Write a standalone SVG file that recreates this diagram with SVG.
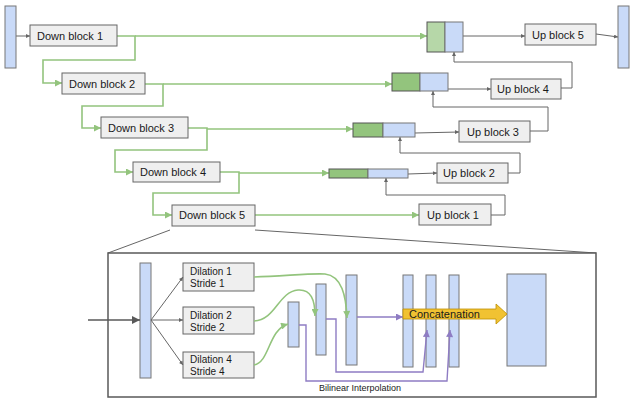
<svg xmlns="http://www.w3.org/2000/svg" width="640" height="400" viewBox="0 0 640 400">
<style>
text{font-family:"Liberation Sans",Arial,sans-serif;fill:#1a1a1a}
.box{fill:#efefef;stroke:#666;stroke-width:1}
.bar{fill:#c9daf8;stroke:#777;stroke-width:1}
.gd{fill:#93c47d;stroke:#555;stroke-width:1}
.gl{fill:#b6d7a8;stroke:#555;stroke-width:1}
.t{font-size:11px}
.s{font-size:10px}
.g{fill:none;stroke:#93c47d;stroke-width:1.6}
.k{fill:none;stroke:#666;stroke-width:1}
.p{fill:none;stroke:#8e7cc3;stroke-width:1.4}
</style>
<defs>
<marker id="ag" viewBox="0 0 10 10" refX="10" refY="5" markerWidth="8" markerHeight="7" markerUnits="userSpaceOnUse" orient="auto"><path d="M0,0 L10,5 L0,10 z" fill="#93c47d"/></marker>
<marker id="ak" viewBox="0 0 10 10" refX="10" refY="5" markerWidth="5" markerHeight="4" markerUnits="userSpaceOnUse" orient="auto"><path d="M0,0 L10,5 L0,10 z" fill="#666"/></marker>
<marker id="ap" viewBox="0 0 10 10" refX="10" refY="5" markerWidth="9" markerHeight="7" markerUnits="userSpaceOnUse" orient="auto"><path d="M0,0 L10,5 L0,10 z" fill="#8e7cc3"/></marker>
<marker id="ad" viewBox="0 0 10 10" refX="10" refY="5" markerWidth="10" markerHeight="8" markerUnits="userSpaceOnUse" orient="auto"><path d="M0,0 L10,5 L0,10 z" fill="#595959"/></marker>
</defs>
<rect width="640" height="400" fill="#fff"/>

<g id="connectors">
<path class="g" d="M117,36 H135 V60 H43 V83 H62" marker-end="url(#ag)"/>
<path class="g" d="M135,36 H427" marker-end="url(#ag)"/>
<path class="g" d="M145,84 H163 V106 H82 V128 H101" marker-end="url(#ag)"/>
<path class="g" d="M163,84 H392" marker-end="url(#ag)"/>
<path class="g" d="M188,128 H207 V150 H115 V172 H133" marker-end="url(#ag)"/>
<path class="g" d="M207,129 H353" marker-end="url(#ag)"/>
<path class="g" d="M220,172 H239 V193 H153 V215 H172" marker-end="url(#ag)"/>
<path class="g" d="M239,173 H329" marker-end="url(#ag)"/>
<path class="g" d="M255,215 H419" marker-end="url(#ag)"/>

<path class="k" d="M16,36 H30" marker-end="url(#ak)"/>
<path class="k" d="M463,36 H525" marker-end="url(#ak)"/>
<path class="k" d="M596,34 L618,37" marker-end="url(#ak)"/>
<path class="k" d="M448,89 H491" marker-end="url(#ak)"/>
<path class="k" d="M561,88 H572 V62 H454 V52" marker-end="url(#ak)"/>
<path class="k" d="M415,133 L459,132" marker-end="url(#ak)"/>
<path class="k" d="M530,131 H548 V107 H433 V91" marker-end="url(#ak)"/>
<path class="k" d="M408,174 L437,173" marker-end="url(#ak)"/>
<path class="k" d="M508,173 H520 V153 H400 V137" marker-end="url(#ak)"/>
<path class="k" d="M491,215 H505 V195 H386 V178" marker-end="url(#ak)"/>

<path class="k" d="M170,230 L108,253"/>
<path class="k" d="M255,230 L596,253"/>
</g>

<g id="input"><rect class="bar" x="5" y="6" width="11" height="62"/></g>
<g id="down1"><rect class="box" x="30" y="25" width="87" height="21"/><text class="t" x="37" y="40">Down block 1</text></g>
<g id="down2"><rect class="box" x="62" y="73" width="83" height="21"/><text class="t" x="69" y="88">Down block 2</text></g>
<g id="down3"><rect class="box" x="101" y="117" width="87" height="21"/><text class="t" x="108" y="132">Down block 3</text></g>
<g id="down4"><rect class="box" x="133" y="162" width="87" height="20"/><text class="t" x="140" y="176">Down block 4</text></g>
<g id="down5"><rect class="box" x="172" y="205" width="83" height="21"/><text class="t" x="179" y="219">Down block 5</text></g>

<g id="concat5"><rect class="gl" x="427" y="22" width="18" height="30"/><rect class="bar" x="445" y="22" width="18" height="30"/></g>
<g id="concat4"><rect class="gd" x="392" y="73" width="28" height="18"/><rect class="bar" x="420" y="73" width="28" height="18"/></g>
<g id="concat3"><rect class="gd" x="353" y="123" width="30" height="14"/><rect class="bar" x="383" y="123" width="32" height="14"/></g>
<g id="concat2"><rect class="gd" x="329" y="169" width="39" height="9"/><rect class="bar" x="368" y="169" width="40" height="9"/></g>

<g id="up5"><rect class="box" x="525" y="24" width="71" height="21"/><text class="t" x="532" y="39">Up block 5</text></g>
<g id="up4"><rect class="box" x="491" y="79" width="70" height="20"/><text class="t" x="497" y="93">Up block 4</text></g>
<g id="up3"><rect class="box" x="459" y="121" width="71" height="21"/><text class="t" x="467" y="136">Up block 3</text></g>
<g id="up2"><rect class="box" x="437" y="163" width="71" height="20"/><text class="t" x="443" y="177">Up block 2</text></g>
<g id="up1"><rect class="box" x="419" y="204" width="72" height="21"/><text class="t" x="427" y="219">Up block 1</text></g>
<g id="output"><rect class="bar" x="618" y="6" width="11" height="62"/></g>

<g id="detail">
<rect x="108" y="253" width="488" height="144" fill="#fff" stroke="#595959" stroke-width="1.5"/>
<rect class="bar" x="140" y="263" width="11" height="115"/>
<g id="dil1"><rect class="box" x="183" y="263" width="71" height="28"/><text class="s" x="190" y="275">Dilation 1</text><text class="s" x="190" y="287">Stride 1</text></g>
<g id="dil2"><rect class="box" x="183" y="307" width="71" height="27"/><text class="s" x="190" y="319">Dilation 2</text><text class="s" x="190" y="331">Stride 2</text></g>
<g id="dil4"><rect class="box" x="183" y="352" width="71" height="26"/><text class="s" x="190" y="363">Dilation 4</text><text class="s" x="190" y="375">Stride 4</text></g>
<rect class="bar" x="288" y="302" width="11" height="45"/>
<rect class="bar" x="316" y="284" width="10" height="71"/>
<rect class="bar" x="346" y="275" width="11" height="90"/>
<rect class="bar" x="403" y="275" width="10" height="92"/>
<rect class="bar" x="426" y="275" width="10" height="92"/>
<rect class="bar" x="449" y="275" width="10" height="92"/>
<rect class="bar" x="507" y="274" width="39" height="92"/>
<g id="detail-connectors">
<path d="M88,320 H140" fill="none" stroke="#595959" stroke-width="1.5" marker-end="url(#ad)"/>
<path class="k" d="M151,320 L183,277" marker-end="url(#ak)"/>
<path class="k" d="M151,320 H183" marker-end="url(#ak)"/>
<path class="k" d="M151,320 L183,365" marker-end="url(#ak)"/>
<path class="g" d="M254,277 C285,276 312,273 325,274 C342,276 346,296 347,318" marker-end="url(#ag)"/>
<path class="g" d="M254,321 C276,320 278,292 298,290 C311,289 315,300 315,316" marker-end="url(#ag)"/>
<path class="g" d="M254,365 C270,362 268,330 288,324" marker-end="url(#ag)"/>
<path class="p" d="M357,317 H403" marker-end="url(#ap)"/>
<path class="p" d="M326,319 H336 V372 H423 L427,330" marker-end="url(#ap)"/>
<path class="p" d="M299,325 H306 V381 H447 L450,330" marker-end="url(#ap)"/>
</g>
<g id="concatenation">
<polygon points="403,309 496,309 496,304 507,314 496,324 496,319 403,319" fill="#f1c232" stroke="#bf9000" stroke-width="0.8"/>
<text class="t" x="409" y="318">Concatenation</text>
</g>
<text x="319" y="391" font-size="9">Bilinear Interpolation</text>
</g>
</svg>
